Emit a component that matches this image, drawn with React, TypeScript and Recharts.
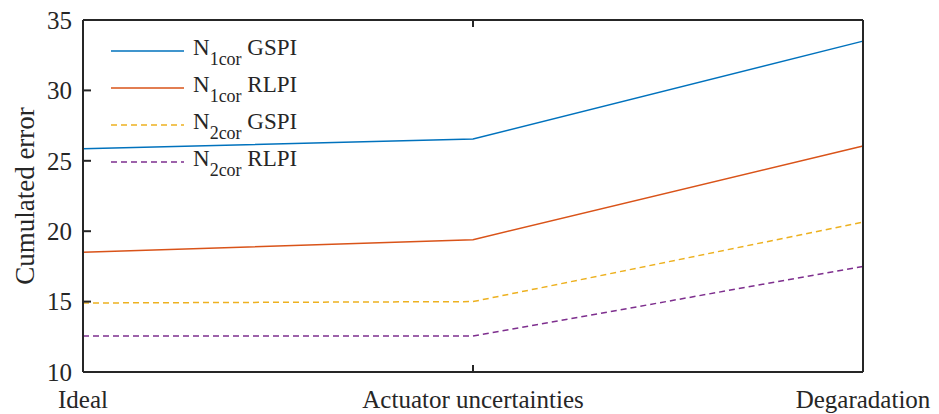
import React from 'react';
import { LineChart, Line, XAxis, YAxis, Legend } from 'recharts';

const categories = ['Ideal', 'Actuator uncertainties', 'Degaradation'];
const n1corGSPI = [25.85, 26.55, 33.5];
const n1corRLPI = [18.5, 19.4, 26.05];
const n2corGSPI = [14.9, 15.0, 20.65];
const n2corRLPI = [12.55, 12.55, 17.5];
const yTicks = [10, 15, 20, 25, 30, 35];

const seriesNames = [
  { key: 'n1GSPI', main: 'N', sub: '1cor', tail: 'GSPI' },
  { key: 'n1RLPI', main: 'N', sub: '1cor', tail: 'RLPI' },
  { key: 'n2GSPI', main: 'N', sub: '2cor', tail: 'GSPI' },
  { key: 'n2RLPI', main: 'N', sub: '2cor', tail: 'RLPI' },
];

const data = categories.map((c, i) => ({
  name: c,
  n1GSPI: n1corGSPI[i],
  n1RLPI: n1corRLPI[i],
  n2GSPI: n2corGSPI[i],
  n2RLPI: n2corRLPI[i],
}));

const FONT = '"Liberation Serif", "Times New Roman", serif';
const INK = '#262626';

const colors: Record<string, string> = {
  n1GSPI: '#0072BD',
  n1RLPI: '#D95319',
  n2GSPI: '#EDB120',
  n2RLPI: '#7E2F8E',
};
const dashes: Record<string, string | undefined> = {
  n1GSPI: undefined,
  n1RLPI: undefined,
  n2GSPI: '6 4',
  n2RLPI: '6 4',
};

const LegendBox = () => (
  <svg width={230} height={150} style={{ overflow: 'visible' }}>
    {seriesNames.map((s, i) => {
      const cy = 21 + 37 * i;
      return (
        <g key={s.key}>
          <line x1={6} x2={79} y1={cy} y2={cy} stroke={colors[s.key]} strokeWidth={1.5} strokeDasharray={dashes[s.key]} />
          <text x={88} y={cy + 4} fontFamily={FONT} fontSize={23} fill={INK}>
            {s.main}
            <tspan dy={10} fontSize={18}>{s.sub}</tspan>
            <tspan dy={-10}> {s.tail}</tspan>
          </text>
        </g>
      );
    })}
  </svg>
);

const axisLine = { stroke: INK, strokeWidth: 2 };
const noLabel = () => <g />;

export default function App() {
  return (
    <div style={{ position: 'absolute', left: 0, top: 0, width: 939, height: 414, background: '#fff' }}>
      <LineChart width={939} height={414} data={data} margin={{ top: 19, right: 75, bottom: 41, left: 0 }}>
        <XAxis
          dataKey="name"
          xAxisId="bottom"
          height={1}
          axisLine={axisLine}
          tickLine={axisLine}
          tickSize={-7}
          tickMargin={25}
          interval={0}
          tick={{ fill: INK, fontFamily: FONT, fontSize: 25 }}
        />
        <XAxis
          dataKey="name"
          xAxisId="top"
          orientation="top"
          height={1}
          axisLine={axisLine}
          tickLine={axisLine}
          tickSize={-7}
          interval={0}
          tick={noLabel}
        />
        <YAxis
          yAxisId="left"
          width={83}
          domain={[10, 35]}
          ticks={yTicks}
          axisLine={axisLine}
          tickLine={axisLine}
          tickSize={-8}
          tickMargin={19}
          tick={{ fill: INK, fontFamily: FONT, fontSize: 25 }}
          label={{
            value: 'Cumulated error',
            angle: -90,
            position: 'insideLeft',
            offset: 24,
            style: { textAnchor: 'middle', fill: INK, fontFamily: FONT, fontSize: 27 },
          }}
        />
        <YAxis
          yAxisId="right"
          orientation="right"
          width={1}
          domain={[10, 35]}
          ticks={yTicks}
          axisLine={axisLine}
          tickLine={axisLine}
          tickSize={-8}
          tick={noLabel}
        />
        <Legend
          layout="horizontal"
          verticalAlign="middle"
          align="center"
          content={() => <LegendBox />}
          wrapperStyle={{ position: 'absolute', left: 105, top: 30, width: 230, height: 150 }}
        />
        {seriesNames.map((s) => (
          <Line
            key={s.key}
            xAxisId="bottom"
            yAxisId="left"
            type="linear"
            dataKey={s.key}
            stroke={colors[s.key]}
            strokeWidth={1.5}
            strokeDasharray={dashes[s.key]}
            dot={false}
            isAnimationActive={false}
          />
        ))}
      </LineChart>
    </div>
  );
}
